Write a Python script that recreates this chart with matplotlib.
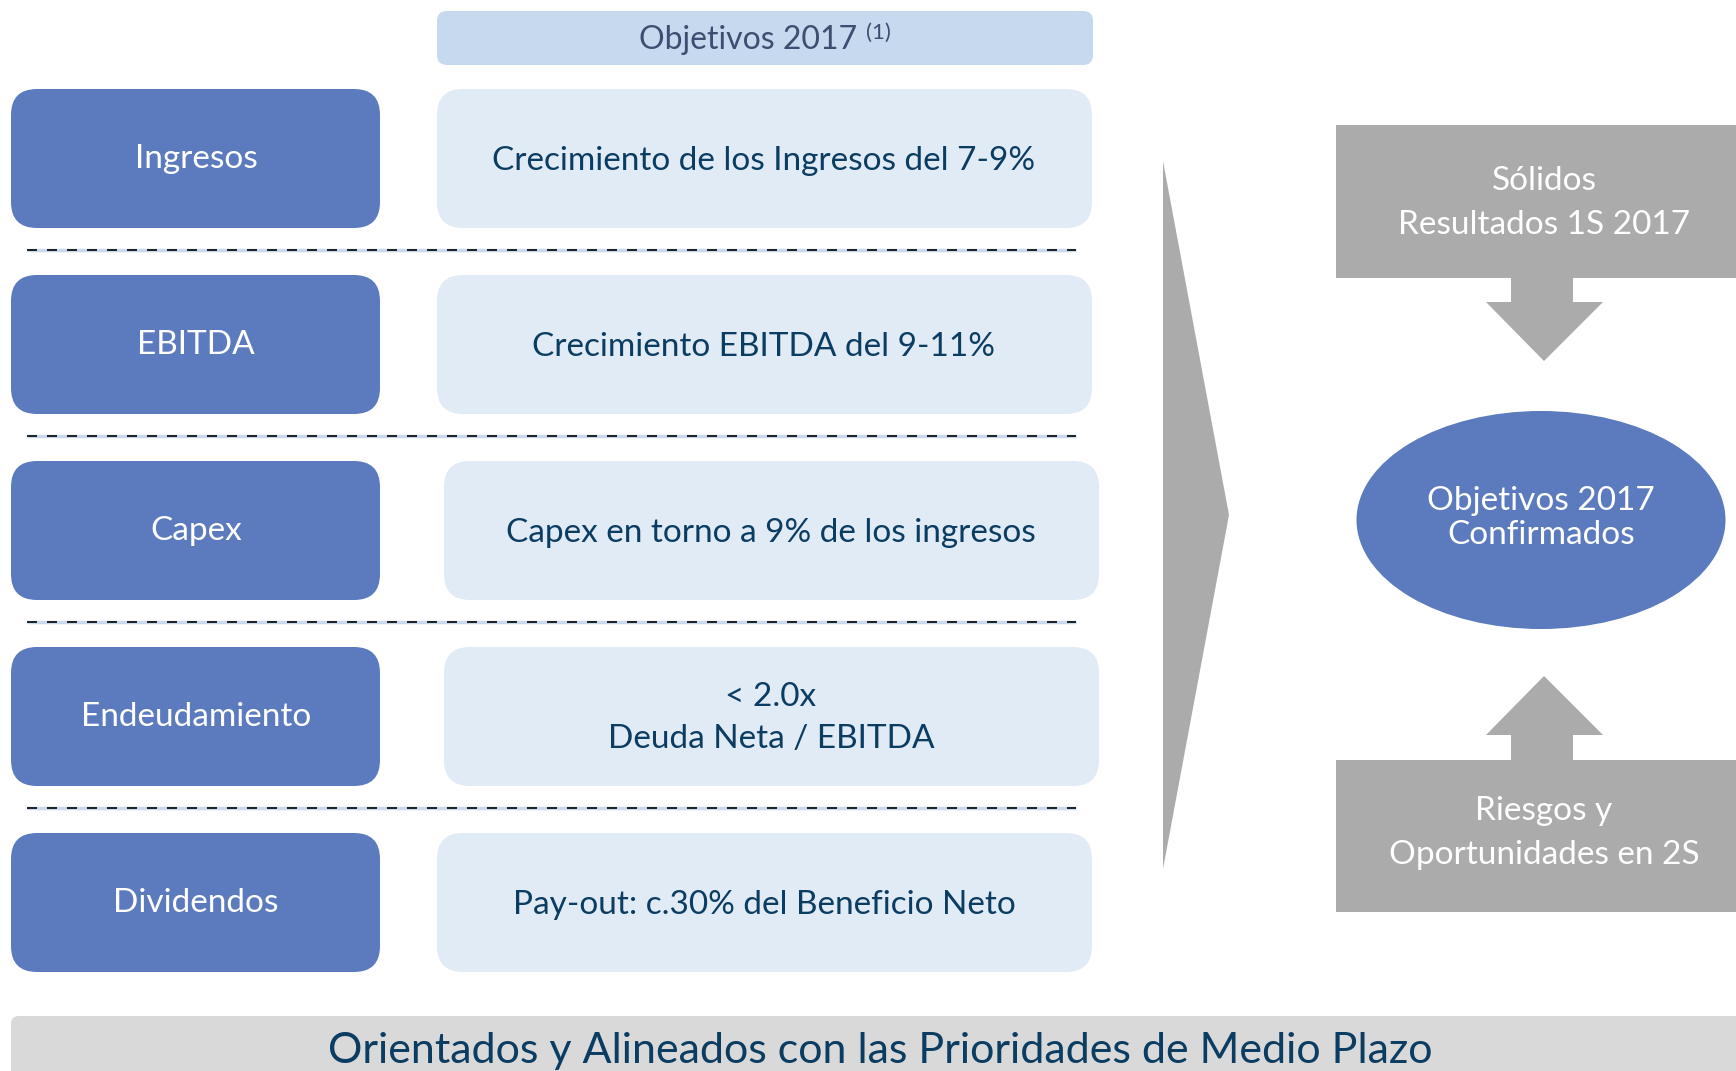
import matplotlib.pyplot as plt
from matplotlib.patches import FancyBboxPatch, Rectangle, Polygon, Ellipse

# contenido del diagrama
categorias = ["Ingresos", "EBITDA", "Capex", "Endeudamiento", "Dividendos"]
objetivos = ["Crecimiento de los Ingresos del 7-9%",
             "Crecimiento EBITDA del 9-11%",
             "Capex en torno a 9% de los ingresos",
             "< 2.0x\nDeuda Neta / EBITDA",
             "Pay-out: c.30% del Beneficio Neto"]
titulo = "Objetivos 2017"
nota = "(1)"
caja_sup = "Sólidos\nResultados 1S 2017"
caja_inf = "Riesgos y\nOportunidades en 2S"
centro = "Objetivos 2017\nConfirmados"
pie = "Orientados y Alineados con las Prioridades de Medio Plazo"

plt.rcParams['font.family'] = ['Lato', 'DejaVu Sans']

W, H = 1736, 1071
fig = plt.figure(figsize=(W / 100, H / 100), dpi=100)
ax = fig.add_axes([0, 0, 1, 1])
ax.set_xlim(0, W)
ax.set_ylim(H, 0)
ax.axis('off')

azul = "#5B7BBE"
azul_claro = "#E1EBF5"
azul_cab = "#C6D9EE"
navy = "#0B3C62"
gris = "#ABABAB"

# cabecera
ax.add_patch(FancyBboxPatch((437, 11), 656, 54, boxstyle="round,pad=0,rounding_size=10",
                            fc=azul_cab, ec="none"))
ax.text(748, 40, titulo, ha='center', va='center', fontsize=23, color="#3D4F70")
ax.text(866, 33, nota, ha='left', va='center', fontsize=16, color="#3D4F70")

row_top = [89, 275, 461, 647, 833]
row_h = 139
right_x = [437, 437, 444, 444, 437]
for i, (cat, obj) in enumerate(zip(categorias, objetivos)):
    y0 = row_top[i]
    ax.add_patch(FancyBboxPatch((11, y0), 369, row_h, boxstyle="round,pad=0,rounding_size=26",
                                fc=azul, ec="none"))
    ax.text(196, y0 + row_h / 2, cat, ha='center', va='center', fontsize=24, color="white")
    ax.add_patch(FancyBboxPatch((right_x[i], y0), 655, row_h, boxstyle="round,pad=0,rounding_size=26",
                                fc=azul_claro, ec="none"))
    ax.text(right_x[i] + 327, y0 + row_h / 2 + 2, obj, ha='center', va='center', fontsize=24,
            color=navy, linespacing=1.5)
    if i < len(categorias) - 1:
        yl = y0 + row_h + 22
        ax.plot([27, 1076], [yl, yl], color="#C9D8EC", lw=2.5, solid_capstyle='butt')
        ax.plot([27, 1076], [yl, yl], color="black", lw=1.2, dashes=(6, 6))

# flecha grande
ax.add_patch(Polygon([(1163, 161), (1229, 515), (1163, 869)], closed=True, fc=gris, ec="none"))

# cajas grises y flechas
ax.add_patch(Rectangle((1336, 125), 400, 153, fc=gris, ec="none"))
ax.text(1544, 203, caja_sup, ha='center', va='center', fontsize=24, color="white", linespacing=1.6)
ax.add_patch(Polygon([(1511, 278), (1573, 278), (1573, 302), (1603, 302), (1544, 361),
                      (1486, 302), (1511, 302)], closed=True, fc=gris, ec="none"))

ax.add_patch(Rectangle((1336, 760), 400, 152, fc=gris, ec="none"))
ax.text(1544, 833, caja_inf, ha='center', va='center', fontsize=24, color="white", linespacing=1.6)
ax.add_patch(Polygon([(1511, 760), (1573, 760), (1573, 735), (1603, 735), (1544, 676),
                      (1486, 735), (1511, 735)], closed=True, fc=gris, ec="none"))

ax.add_patch(Ellipse((1541, 520), 369, 218, fc=azul, ec="none"))
ax.text(1541, 518, centro, ha='center', va='center', fontsize=24, color="white", linespacing=1.15)

# banda inferior
ax.add_patch(FancyBboxPatch((11, 1016), 1740, 80, boxstyle="round,pad=0,rounding_size=8",
                            fc="#D9D9D9", ec="none"))
ax.text(880, 1051, pie, ha='center', va='center', fontsize=31, color=navy)

fig.savefig("out.png", dpi=100)
